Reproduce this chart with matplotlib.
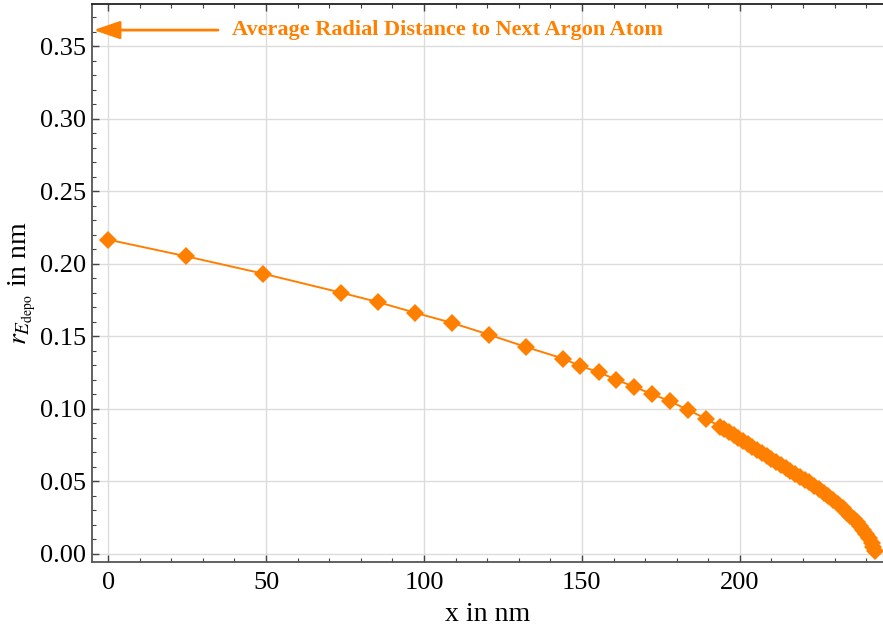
import matplotlib
matplotlib.use("Agg")
import matplotlib.pyplot as plt
from matplotlib.ticker import MultipleLocator

# Penetration depth x (nm) and deposition radius r_E_depo (nm)
x_nm = [0.0, 24.7, 49.1, 73.6, 85.3, 97.3, 109.0, 120.5, 132.2, 144.0,
        149.3, 155.4, 160.8, 166.5, 172.2, 177.9, 183.6, 189.3, 193.8,
        195.0, 196.5, 198.0, 199.5, 201.0, 202.5, 204.0, 205.5, 207.0,
        208.5, 210.0, 211.5, 213.0, 214.5, 216.0, 217.5, 219.0, 220.5,
        222.0, 223.5, 225.0, 226.5, 228.0, 229.5, 231.0, 232.5, 234.0,
        235.0, 236.0, 237.0, 238.0, 239.0, 240.0, 241.0, 241.7, 242.3,
        242.8]
r_nm = [0.2165, 0.2050, 0.1930, 0.1800, 0.1735, 0.1660, 0.1590, 0.1510,
        0.1425, 0.1345, 0.1295, 0.1250, 0.1200, 0.1150, 0.1100, 0.1050,
        0.0990, 0.0930, 0.0875,
        0.0856, 0.0838, 0.0818, 0.0798, 0.0778, 0.0757, 0.0736, 0.0714,
        0.0692, 0.0672, 0.0652, 0.0630, 0.0608, 0.0588, 0.0568, 0.0548,
        0.0528, 0.0510, 0.0490, 0.0468, 0.0445, 0.0420, 0.0395, 0.0370,
        0.0342, 0.0313, 0.0283, 0.0262, 0.0240, 0.0216, 0.0192, 0.0165,
        0.0136, 0.0104, 0.0075, 0.0045, 0.0020]

# Mean radial distance to the neighbouring argon atom (nm)
argon_spacing = 0.361
annotation_text = "Average Radial Distance to Next Argon Atom"

x_ticks = [0, 50, 100, 150, 200]
y_ticks = [0.00, 0.05, 0.10, 0.15, 0.20, 0.25, 0.30, 0.35]

orange = "#ff8000"
serif = ["Liberation Serif", "DejaVu Serif"]
plt.rcParams["mathtext.fontset"] = "stix"

fig = plt.figure(figsize=(8.83, 6.30), dpi=100)
ax = fig.add_axes([0.1042, 0.108, 0.8968, 0.885])

ax.plot(x_nm, r_nm, color=orange, lw=1.4, marker="D", ms=9.2,
        markeredgewidth=0, zorder=3)

ax.set_xlim(-5.1, 245.6)
ax.set_ylim(-0.0058, 0.3787)

ax.set_xticks(x_ticks)
ax.set_yticks(y_ticks)
ax.set_xticklabels([str(v) for v in x_ticks])
ax.set_yticklabels([f"{v:.2f}" for v in y_ticks])
ax.xaxis.set_minor_locator(MultipleLocator(10))
ax.yaxis.set_minor_locator(MultipleLocator(0.01))

ax.grid(True, which="major", color="#dcdcdc", lw=1.0, zorder=0)
ax.set_axisbelow(True)

ax.tick_params(which="both", direction="in", top=True, right=False,
               colors="#444444", labelcolor="black")
ax.tick_params(which="major", length=5, width=1.0, labelsize=19)
ax.tick_params(axis="y", which="major", pad=4)
ax.tick_params(axis="x", which="major", pad=7)
ax.tick_params(which="minor", length=3, width=0.8)
for lbl in ax.get_xticklabels() + ax.get_yticklabels():
    lbl.set_fontfamily(serif)

ax.spines["right"].set_visible(False)
ax.spines["top"].set_color("#222222")
ax.spines["left"].set_color("#555555")
ax.spines["bottom"].set_color("#555555")
for s in ("top", "left", "bottom"):
    ax.spines[s].set_linewidth(1.3)

ax.set_xlabel("x in nm", fontsize=20, family=serif, labelpad=6)
ax.set_ylabel(r"$r_{E_{\mathrm{depo}}}$ in nm", fontsize=20, family=serif)
ax.yaxis.set_label_coords(-0.068, 0.5)

# Arrow pointing at the argon spacing level on the y axis
ax.annotate("", xy=(-4.6, argon_spacing), xytext=(34.8, argon_spacing),
            arrowprops=dict(arrowstyle="-|>,head_length=1.6,head_width=0.55",
                            color=orange, lw=2.0, shrinkA=0, shrinkB=0))
ax.text(39.2, argon_spacing, annotation_text, color=orange, fontsize=16,
        fontweight="bold", family=serif, va="center", ha="left")

fig.savefig("out.png", dpi=100)
